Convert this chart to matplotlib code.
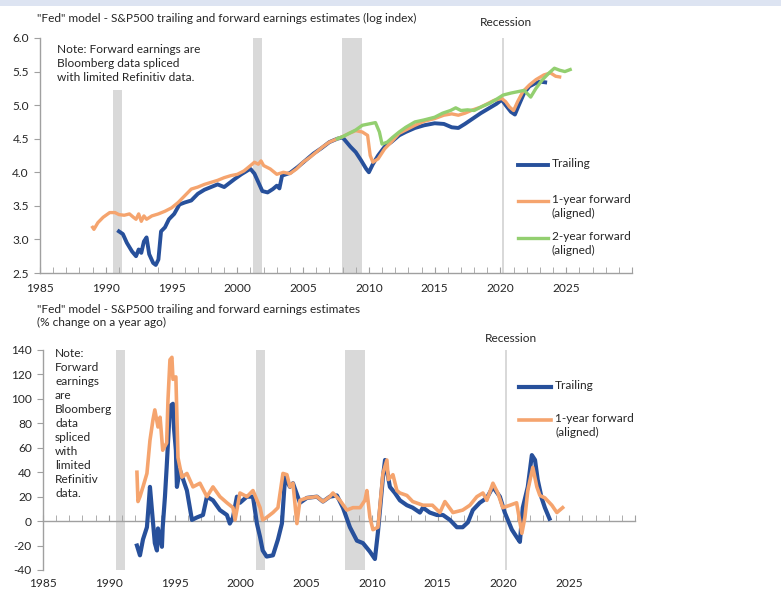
import matplotlib
matplotlib.use("Agg")
import matplotlib.pyplot as plt
from matplotlib.lines import Line2D
from matplotlib.patches import Rectangle

plt.rcParams['font.family'] = ['Lato', 'DejaVu Sans']

# ---------------- data ----------------
recessions = [(1990.55, 1991.25), (2001.2, 2001.9), (2007.95, 2009.5), (2020.1, 2020.3)]

# Top chart: log index
top_trail_year = [1991.0, 1991.3, 1991.6, 1992.0, 1992.3, 1992.5, 1992.7, 1992.9, 1993.1, 1993.3,
                  1993.6, 1993.8, 1994.0, 1994.2, 1994.5, 1994.8, 1995.2, 1995.6, 1996.0, 1996.5,
                  1997.0, 1997.5, 1998.0, 1998.5, 1999.0, 1999.4, 1999.8, 2000.3, 2000.8, 2001.0,
                  2001.3, 2001.6, 2001.9, 2002.3, 2002.7, 2003.0, 2003.2, 2003.4, 2004.0, 2004.6,
                  2005.2, 2005.8, 2006.4, 2007.0, 2007.6, 2008.0, 2008.3, 2008.6, 2009.0, 2009.4,
                  2009.8, 2010.0, 2010.3, 2010.7, 2011.2, 2011.7, 2012.3, 2012.8, 2013.5, 2014.2,
                  2015.0, 2015.7, 2016.3, 2016.8, 2017.3, 2017.9, 2018.5, 2019.1, 2019.7, 2020.1,
                  2020.4, 2020.8, 2021.1, 2021.4, 2021.8, 2022.2, 2022.7, 2023.0, 2023.4]
top_trail_val = [3.12, 3.08, 2.95, 2.82, 2.75, 2.85, 2.80, 2.97, 3.03, 2.78,
                 2.65, 2.62, 2.70, 3.12, 3.18, 3.30, 3.38, 3.52, 3.55, 3.58,
                 3.68, 3.74, 3.78, 3.82, 3.78, 3.84, 3.90, 3.97, 4.03, 4.05,
                 3.98, 3.85, 3.72, 3.70, 3.75, 3.80, 3.76, 3.95, 3.99, 4.08,
                 4.18, 4.28, 4.36, 4.45, 4.50, 4.52, 4.45, 4.38, 4.30, 4.18,
                 4.05, 4.00, 4.12, 4.25, 4.38, 4.45, 4.55, 4.60, 4.66, 4.70,
                 4.73, 4.72, 4.67, 4.66, 4.72, 4.80, 4.88, 4.95, 5.02, 5.08,
                 5.00, 4.90, 4.86, 5.00, 5.18, 5.28, 5.33, 5.35, 5.34]

top_fwd1_year = [1989.0, 1989.1, 1989.4, 1989.8, 1990.3, 1990.7, 1991.0, 1991.4, 1991.8, 1992.1,
                 1992.3, 1992.5, 1992.7, 1992.9, 1993.1, 1993.5, 1994.0, 1994.5, 1995.0, 1995.5,
                 1996.0, 1996.5, 1997.0, 1997.5, 1998.0, 1998.5, 1999.0, 1999.5, 2000.0, 2000.5,
                 2001.0, 2001.3, 2001.6, 2001.8, 2002.0, 2002.5, 2003.0, 2003.5, 2004.0, 2004.5,
                 2005.0, 2005.5, 2006.0, 2006.5, 2007.0, 2007.6, 2008.0, 2008.5, 2009.0, 2009.5,
                 2009.9, 2010.1, 2010.3, 2010.7, 2011.2, 2011.7, 2012.3, 2012.8, 2013.5, 2014.2,
                 2015.0, 2015.7, 2016.3, 2016.8, 2017.3, 2017.9, 2018.5, 2019.0, 2019.5, 2020.1,
                 2020.4, 2020.7, 2021.0, 2021.3, 2021.7, 2022.2, 2022.7, 2023.3, 2023.8, 2024.2,
                 2024.5]
top_fwd1_val = [3.18, 3.15, 3.25, 3.33, 3.40, 3.40, 3.37, 3.36, 3.38, 3.33,
                3.30, 3.38, 3.27, 3.35, 3.30, 3.35, 3.38, 3.42, 3.47, 3.55,
                3.65, 3.75, 3.78, 3.82, 3.85, 3.88, 3.92, 3.95, 3.97, 4.02,
                4.10, 4.15, 4.12, 4.17, 4.10, 4.05, 3.97, 4.00, 3.98, 4.05,
                4.15, 4.22, 4.30, 4.38, 4.45, 4.50, 4.53, 4.58, 4.62, 4.60,
                4.55, 4.25, 4.15, 4.20, 4.35, 4.45, 4.58, 4.63, 4.70, 4.76,
                4.80, 4.85, 4.87, 4.85, 4.88, 4.93, 4.97, 5.02, 5.07, 5.10,
                5.05, 4.97, 4.92, 5.05, 5.20, 5.30, 5.38, 5.45, 5.48, 5.43,
                5.42]

top_fwd2_year = [2007.6, 2008.0, 2008.5, 2009.0, 2009.5, 2010.0, 2010.5, 2010.8, 2011.0, 2011.4,
                 2011.8, 2012.3, 2012.8, 2013.5, 2014.2, 2015.0, 2015.6, 2016.2, 2016.6, 2017.0,
                 2017.5, 2018.0, 2018.6, 2019.2, 2019.8, 2020.2, 2020.8, 2021.3, 2021.8, 2022.0,
                 2022.3, 2022.7, 2023.2, 2023.7, 2024.1, 2024.5, 2024.9, 2025.3]
top_fwd2_val = [4.50, 4.53, 4.58, 4.63, 4.70, 4.72, 4.74, 4.60, 4.42, 4.45,
                4.52, 4.60, 4.67, 4.75, 4.78, 4.82, 4.88, 4.92, 4.96, 4.92,
                4.93, 4.92, 4.98, 5.03, 5.10, 5.15, 5.18, 5.20, 5.22, 5.18,
                5.12, 5.25, 5.38, 5.48, 5.55, 5.52, 5.50, 5.53]

# Bottom chart: % change on a year ago
bot_trail_year = [1992.14, 1992.37, 1992.6, 1992.9, 1993.0, 1993.13, 1993.28, 1993.5, 1993.66, 1993.74,
                  1994.04, 1994.1, 1994.27, 1994.4, 1994.65, 1994.88, 1994.95, 1995.1, 1995.18, 1995.4,
                  1995.94, 1996.32, 1996.7, 1997.16, 1997.46, 1997.92, 1998.45, 1998.98, 1999.2, 1999.44,
                  1999.74, 1999.97, 2000.5, 2000.96, 2001.26, 2001.5, 2001.7, 2002.0, 2002.48, 2002.86,
                  2003.16, 2003.4, 2003.77, 2004.0, 2004.53, 2005.06, 2005.82, 2006.28, 2006.8, 2007.34,
                  2007.8, 2008.33, 2008.86, 2009.32, 2009.85, 2010.23, 2010.46, 2010.84, 2011.0, 2011.37,
                  2011.75, 2012.13, 2012.66, 2013.1, 2013.65, 2013.88, 2014.4, 2014.94, 2015.4, 2015.93,
                  2016.46, 2016.9, 2017.3, 2017.67, 2018.2, 2018.74, 2019.2, 2019.73, 2020.1, 2020.64,
                  2021.0, 2021.25, 2021.47, 2021.85, 2022.16, 2022.4, 2022.6, 2022.9, 2023.15, 2023.5]
bot_trail_val = [-20, -28, -15, -5, 9, 28, 9, -18, -24, -6,
                 -21, -5, 20, 44, 94, 96, 77, 58, 28, 42,
                 25, 1, 3, 5, 20, 17, 9, 5, -2, 3,
                 20, 15, 20, 20, -2, -13, -24, -29, -28, -15,
                 -2, 36, 28, 31, 15, 19, 20, 16, 20, 21,
                 11, -5, -16, -18, -25, -31, -9, 36, 50, 28,
                 23, 17, 13, 11, 7, 11, 7, 5, 5, 1,
                 -5, -5, -1, 9, 15, 19, 28, 20, 7, -7,
                 -13, -17, 11, 28, 54, 50, 34, 19, 11, 2]

bot_fwd1_year = [1992.14, 1992.22, 1992.37, 1992.6, 1992.9, 1993.13, 1993.36, 1993.5, 1993.74, 1993.9,
                 1994.1, 1994.4, 1994.5, 1994.65, 1994.8, 1994.88, 1995.1, 1995.26, 1995.56, 1995.94,
                 1996.4, 1996.93, 1997.46, 1997.92, 1998.45, 1998.98, 1999.44, 1999.6, 1999.97, 2000.5,
                 2000.96, 2001.5, 2001.7, 2002.0, 2002.48, 2002.86, 2003.24, 2003.54, 2003.77, 2004.0,
                 2004.3, 2004.53, 2005.06, 2005.82, 2006.28, 2006.8, 2007.04, 2007.57, 2008.1, 2008.56,
                 2009.1, 2009.47, 2009.62, 2009.85, 2010.08, 2010.46, 2010.84, 2011.14, 2011.25, 2011.6,
                 2011.9, 2012.13, 2012.66, 2013.1, 2013.88, 2014.6, 2015.17, 2015.55, 2016.16, 2016.9,
                 2017.45, 2017.98, 2018.44, 2018.74, 2019.2, 2019.57, 2019.95, 2020.5, 2021.0, 2021.4,
                 2021.63, 2021.85, 2022.23, 2022.54, 2022.77, 2023.15, 2023.68, 2024.06, 2024.5]
bot_fwd1_val = [40, 16, 20, 28, 39, 66, 83, 91, 77, 85,
                58, 64, 99, 132, 134, 116, 118, 52, 36, 39,
                28, 31, 20, 28, 20, 15, 11, 1, 23, 20,
                25, 11, 1, 3, 7, 11, 39, 38, 28, 31,
                -2, 17, 19, 20, 16, 20, 23, 17, 9, 11,
                11, 17, 25, 3, -7, -5, 39, 50, 34, 38,
                25, 23, 21, 16, 13, 13, 7, 16, 7, 9,
                13, 20, 23, 17, 31, 23, 11, 13, 15, -10,
                3, 25, 44, 28, 21, 19, 13, 7, 11]

top_yticks = [2.5, 3.0, 3.5, 4.0, 4.5, 5.0, 5.5, 6.0]
bot_yticks = [-40, -20, 0, 20, 40, 60, 80, 100, 120, 140]
xtick_years = [1985, 1990, 1995, 2000, 2005, 2010, 2015, 2020, 2025]

# ---------------- style ----------------
C_BLUE = '#27509b'
C_ORANGE = '#f5a46e'
C_GREEN = '#93cf70'
C_BAR = '#d9d9d9'
C_AX = '#a0a0a0'
C_TXT = '#262626'
FS = 8.6

W, H = 781, 596
fig = plt.figure(figsize=(W / 100, H / 100), dpi=100)
fig.patch.set_facecolor('white')
fig.patches.append(Rectangle((0, 1 - 6 / H), 1, 6 / H, transform=fig.transFigure,
                             facecolor='#dde4f2', edgecolor='none', zorder=0))


def fx(px):
    return px / W


def fy(py):
    return 1 - py / H


def style_axes(ax, ylim, yticks, yfmt):
    ax.set_xlim(1985, 2030)
    ax.set_ylim(*ylim)
    ax.set_yticks(yticks)
    ax.set_yticklabels([yfmt.format(v) for v in yticks])
    ax.set_xticks(list(range(1985, 2031, 5)))
    ax.set_xticklabels([str(y) if y in xtick_years else '' for y in range(1985, 2031, 5)])
    ax.set_xticks(list(range(1985, 2031)), minor=True)
    for s in ['top', 'right']:
        ax.spines[s].set_visible(False)
    for s in ['left', 'bottom']:
        ax.spines[s].set_color(C_AX)
        ax.spines[s].set_linewidth(1.0)
    ax.tick_params(axis='y', direction='out', length=4, color=C_AX, labelsize=FS, labelcolor=C_TXT, pad=4)
    ax.tick_params(axis='x', which='both', direction='in', length=4, color=C_AX, labelsize=FS, labelcolor=C_TXT)
    ax.patch.set_alpha(0)


# ---------------- top chart ----------------
ax1 = fig.add_axes([fx(40), fy(273), fx(592), 235 / H])
style_axes(ax1, (2.5, 6.0), top_yticks, '{:.1f}')
ax1.tick_params(axis='x', pad=7)
for i, (a, b) in enumerate(recessions):
    top = 5.22 if i == 0 else 6.0
    ax1.fill_between([a, b], 2.5, top, color=C_BAR, lw=0, zorder=1)
ax1.plot(top_trail_year, top_trail_val, color=C_BLUE, lw=2.8, zorder=3, solid_joinstyle='round')
ax1.plot(top_fwd1_year, top_fwd1_val, color=C_ORANGE, lw=2.4, zorder=4, solid_joinstyle='round')
ax1.plot(top_fwd2_year, top_fwd2_val, color=C_GREEN, lw=2.4, zorder=5, solid_joinstyle='round')

fig.text(fx(37), fy(18), '"Fed" model - S&P500 trailing and forward earnings estimates (log index)',
         fontsize=FS, color=C_TXT, ha='left', va='center')
fig.text(fx(506), fy(23), 'Recession', fontsize=FS, color=C_TXT, ha='center', va='center')
fig.text(fx(57), fy(44), 'Note: Forward earnings are\nBloomberg data spliced\nwith limited Refinitiv data.',
         fontsize=FS, color=C_TXT, ha='left', va='top', linespacing=1.35)

# ---------------- bottom chart ----------------
ax2 = fig.add_axes([fx(43), fy(570), fx(592), 220 / H])
style_axes(ax2, (-40, 140), bot_yticks, '{:d}')
ax2.spines['bottom'].set_position(('data', 0))
ax2.tick_params(axis='x', pad=41)
for a, b in recessions:
    ax2.fill_between([a, b], -40, 140, color=C_BAR, lw=0, zorder=1)
ax2.plot(bot_trail_year, bot_trail_val, color=C_BLUE, lw=3.0, zorder=3, solid_joinstyle='round')
ax2.plot(bot_fwd1_year, bot_fwd1_val, color=C_ORANGE, lw=2.6, zorder=4, solid_joinstyle='round')

fig.text(fx(37), fy(316), '"Fed" model - S&P500 trailing and forward earnings estimates\n(% change on a year ago)',
         fontsize=FS, color=C_TXT, ha='left', va='center', linespacing=1.3)
fig.text(fx(511), fy(338), 'Recession', fontsize=FS, color=C_TXT, ha='center', va='center')
fig.text(fx(55), fy(348),
         'Note:\nForward\nearnings\nare\nBloomberg\ndata\nspliced\nwith\nlimited\nRefinitiv\ndata.',
         fontsize=FS, color=C_TXT, ha='left', va='top', linespacing=1.33)


# ---------------- legends (manual, Excel-style) ----------------
def legend_entry(x0, x1, ytxt, color, lw, label):
    fig.lines.append(Line2D([fx(x0), fx(x1)], [fy(ytxt), fy(ytxt)], transform=fig.transFigure,
                            color=color, lw=lw))
    fig.text(fx(x1 + 4), fy(ytxt - 7), label, fontsize=FS, color=C_TXT, ha='left', va='top',
             linespacing=1.3, transform=fig.transFigure)


legend_entry(518, 548, 165, C_BLUE, 2.8, 'Trailing')
legend_entry(518, 548, 201, C_ORANGE, 2.4, '1-year forward\n(aligned)')
legend_entry(518, 548, 238, C_GREEN, 2.4, '2-year forward\n(aligned)')
legend_entry(519, 551, 387, C_BLUE, 3.0, 'Trailing')
legend_entry(519, 551, 420, C_ORANGE, 2.6, '1-year forward\n(aligned)')

fig.savefig('out.png', dpi=100, facecolor='white')
